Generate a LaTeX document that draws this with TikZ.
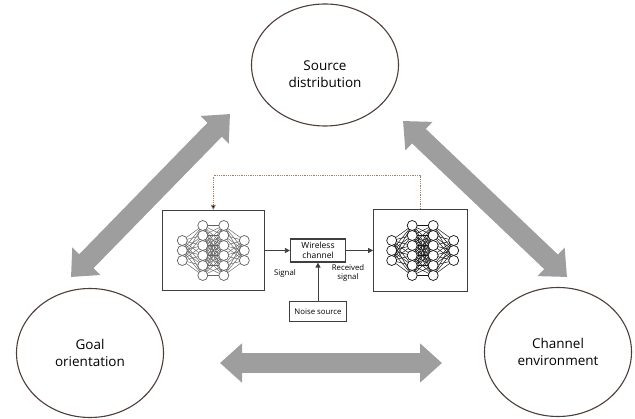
\documentclass[tikz,border=0pt]{standalone}
\usepackage{fontspec}
\setsansfont{Open Sans}
\usetikzlibrary{arrows.meta,positioning,shapes.geometric}
\definecolor{rim}{RGB}{78,62,58}
\definecolor{boxline}{RGB}{66,62,62}
\definecolor{bandgray}{RGB}{158,158,158}
\definecolor{fbcolor}{RGB}{160,128,104}

% small fully connected net, 3-6-6-3 neurons
\tikzset{
  nnet/.pic={
    \foreach \j in {1,...,6} {
      \foreach \i in {1,2,3} {
        \draw (-31,{(\i-2)*10}) -- (-10.5,{(\j-3.5)*10});
        \draw (31,{(\i-2)*10}) -- (10.5,{(\j-3.5)*10});
      }
      \foreach \k in {1,...,6}
        \draw (-10.5,{(\j-3.5)*10}) -- (10.5,{(\k-3.5)*10});
    }
    \foreach \i in {1,2,3} {
      \draw[fill=white,line width=0.7pt] (-31,{(\i-2)*10}) circle (5pt);
      \draw[fill=white,line width=0.7pt] (31,{(\i-2)*10}) circle (5pt);
    }
    \foreach \j in {1,...,6} {
      \draw[fill=white,line width=0.7pt] (-10.5,{(\j-3.5)*10}) circle (5pt);
      \draw[fill=white,line width=0.7pt] (10.5,{(\j-3.5)*10}) circle (5pt);
    }
  }
}

\begin{document}
\begin{tikzpicture}[x=1pt,y=-1pt,>=Latex,font=\sffamily,
  topic/.style={draw=rim,line width=1.1pt,ellipse,minimum width=147pt,minimum height=129pt,
    align=center,inner sep=0pt,font=\sffamily\fontsize{13.5}{17}\selectfont},
  block/.style={draw=boxline,line width=1.2pt,inner sep=0pt},
  tag/.style={font=\sffamily\fontsize{7.8}{8.6}\selectfont,align=center},
  link/.style={draw=boxline,line width=0.8pt,-{Triangle[length=5pt,width=5pt]}},
  feedback/.style={draw=fbcolor,line width=0.8pt,densely dotted,-{Triangle[length=5pt,width=5pt,fill=black]}},
  band/.style={draw=bandgray,line width=20pt,
    {Triangle[width=38pt,length=22pt]}-{Triangle[width=38pt,length=22pt]}}]
\useasboundingbox (0,0) rectangle (635,419);

% the three aspects
\node[topic,minimum height=122pt,
  label={[align=center,yshift=-9pt,font=\sffamily\fontsize{13.5}{17}\selectfont]center:{Source\\distribution}}]
  (src) at (325,65) {};
\node[topic] (goal) at (90,353) {Goal\\orientation};
\node[topic] (chan) at (558,352) {Channel\\environment};

% wide two-way arrows between them
\coordinate (gs1) at (71,277);
\coordinate (gs2) at (230,114);
\coordinate (sc1) at (403,121);
\coordinate (sc2) at (567,277);
\coordinate (gc1) at (220,363);
\coordinate (gc2) at (442,363);
\draw[band] (gs1) -- (gs2);
\draw[band] (sc1) -- (sc2);
\draw[band] (gc1) -- (gc2);

% transmitter -> channel -> receiver
\node[block,minimum width=55pt,minimum height=23pt,align=center,
  font=\sffamily\fontsize{8.5}{9.5}\selectfont] (wch) at (318,250.5) {Wireless\\channel};
\node[block,minimum width=102pt,minimum height=80pt,left=25pt of wch] (lnet) {};
\node[block,minimum width=94pt,minimum height=82pt,right=27pt of wch] (rnet) {};
\node[block,tag,minimum width=57pt,minimum height=20pt,below=38pt of wch] (noise) {Noise source};

\pic[color=black!62,line width=0.45pt] at (lnet.center) {nnet};
\pic[color=black!92,line width=0.5pt] at ([xshift=2pt]rnet.center) {nnet};

\draw[link] (lnet) -- (wch);
\draw[link] (wch) -- (rnet);
\draw[link] (noise) -- (wch);
\node[tag] (sig) at (285,273) {Signal};
\node[tag] (rcv) at (348,273) {Received\\signal};

\draw[feedback] (rnet.north) -- ++(0,-33) -| (lnet.north);
\end{tikzpicture}
\end{document}
